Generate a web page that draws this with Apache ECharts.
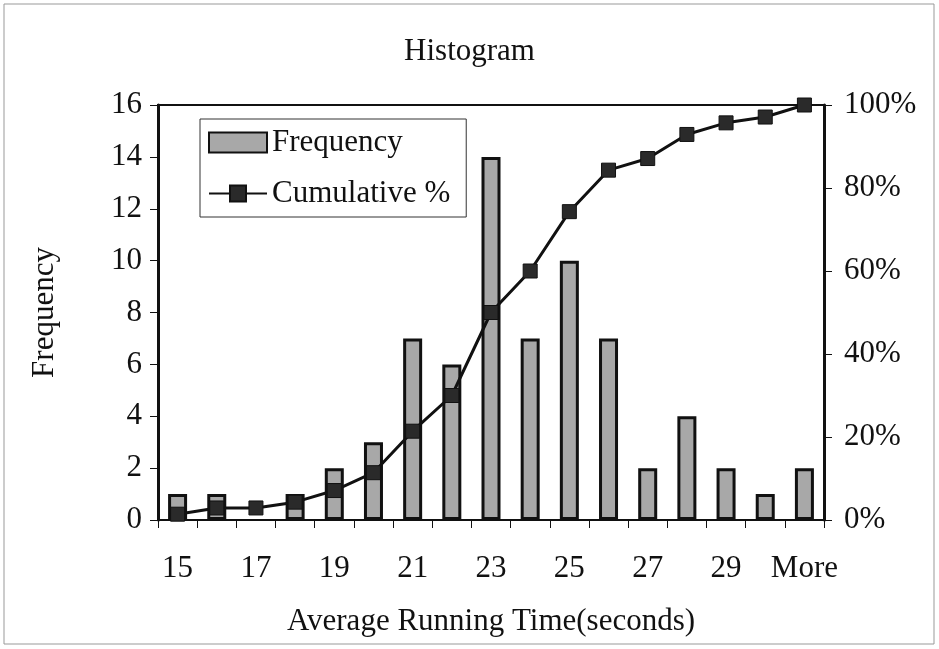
<!DOCTYPE html>
<html><head><meta charset="utf-8">
<script src="https://cdn.jsdelivr.net/npm/echarts@6/dist/echarts.min.js"></script>
<style>html,body{margin:0;padding:0;background:#fff}#c{width:939px;height:649px}</style>
</head><body><div id="c"></div>
<script>
const categories = ['15','16','17','18','19','20','21','22','23','24','25','26','27','28','29','30','More'];
const frequency = [1,1,0,1,2,3,7,6,14,7,10,7,2,4,2,1,2];
const cumulativePct = [1.4,2.9,2.9,4.3,7.1,11.4,21.4,30.0,50.0,60.0,74.3,84.3,87.1,92.9,95.7,97.1,100];
const leftTicks = [0,2,4,6,8,10,12,14,16];
const rightTicks = [0,20,40,60,80,100];

const F = '"Liberation Serif","Times New Roman",serif';
const FS = 31;
const barData = frequency.map(v => v === 0 ? {value:v, itemStyle:{borderWidth:0}} : v);
const chart = echarts.init(document.getElementById('c'));
chart.setOption({
  animation:false,
  backgroundColor:'#fff',
  title:{text:'Histogram',left:'center',top:36,itemGap:0,padding:0,
    textStyle:{fontFamily:F,fontSize:FS,fontWeight:'normal',color:'#111'}},
  graphic:[{type:'rect',shape:{x:4,y:4,width:930,height:640},style:{fill:'none',stroke:'#999',lineWidth:1}}],
  legend:{orient:'vertical',left:200,top:119,itemGap:20,padding:[8,16,8,8],
    borderColor:'#333',borderWidth:1,backgroundColor:'#fff',
    itemWidth:58,itemHeight:20,
    textStyle:{fontFamily:F,fontSize:FS,color:'#111',padding:[0,0,0,0]},
    data:[{name:'Frequency',icon:'rect',itemStyle:{borderWidth:2}},{name:'Cumulative %'}]},
  grid:{left:158,right:115,top:105,bottom:129,show:true,borderColor:'#111',borderWidth:2},
  xAxis:{type:'category',data:categories,boundaryGap:true,
    name:'Average Running Time(seconds)',nameLocation:'middle',nameGap:86,
    nameTextStyle:{fontFamily:F,fontSize:FS,color:'#111'},
    axisLine:{lineStyle:{color:'#111',width:2}},
    axisTick:{show:true,interval:0,length:8,lineStyle:{color:'#111'}},
    axisLabel:{interval:1,margin:33,fontFamily:F,fontSize:FS,color:'#111'}},
  yAxis:[{type:'value',min:0,max:16,interval:2,
    name:'Frequency',nameLocation:'middle',nameGap:98,nameRotate:90,
    nameTextStyle:{fontFamily:F,fontSize:FS,color:'#111'},
    axisLine:{show:true,lineStyle:{color:'#111',width:3}},
    axisTick:{show:true,length:8,lineStyle:{color:'#111'}},
    splitLine:{show:false},
    axisLabel:{margin:16,fontFamily:F,fontSize:FS,color:'#111'}},
   {type:'value',min:0,max:100,interval:20,position:'right',
    axisLine:{show:true,lineStyle:{color:'#111',width:3}},
    axisTick:{show:true,inside:false,length:8,lineStyle:{color:'#111'}},
    splitLine:{show:false},
    axisLabel:{margin:20,fontFamily:F,fontSize:FS,color:'#111',formatter:'{value}%'}}],
  series:[
    {name:'Frequency',type:'bar',data:barData,barWidth:19,yAxisIndex:0,
     itemStyle:{color:'#a8a8a8',borderColor:'#111',borderWidth:3}},
    {name:'Cumulative %',type:'line',data:cumulativePct,yAxisIndex:1,
     symbol:'rect',symbolSize:14,
     lineStyle:{color:'#111',width:3},
     itemStyle:{color:'#2a2a2a',borderColor:'#111',borderWidth:1}}
  ]
});
</script></body></html>
